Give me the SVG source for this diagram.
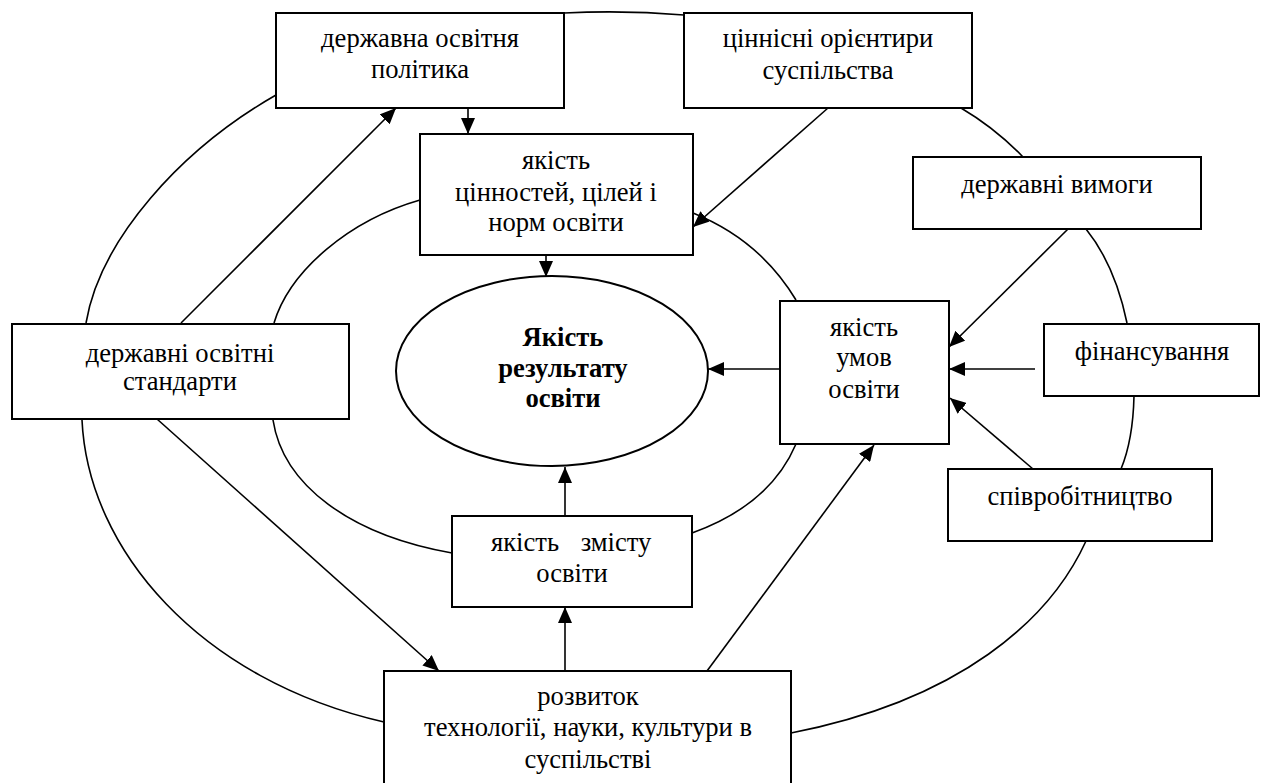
<svg xmlns="http://www.w3.org/2000/svg" width="1262" height="783" viewBox="0 0 1262 783">
<style>
.box{fill:#fff;stroke:#000;stroke-width:2}
text{font-family:'Liberation Serif','Times New Roman','DejaVu Serif',serif;font-size:26.6px;fill:#000;text-anchor:middle}
.b{font-weight:bold}
.c{fill:none;stroke:#000;stroke-width:1.6}
.a{fill:none;stroke:#000;stroke-width:1.6;marker-end:url(#ah)}
</style>
<defs>
<marker id="ah" markerUnits="userSpaceOnUse" markerWidth="16" markerHeight="14" viewBox="0 0 16 14" refX="16" refY="7" orient="auto">
<path d="M0,0 L16,7 L0,14 Z" fill="#000"/>
</marker>
</defs>
<rect width="1262" height="783" fill="#fff"/>
<g id="connectors">
<path class="c" d="M276,95 C180,150 100,240 86,323"/>
<path class="c" d="M82,420 C88,550 200,680 384,722"/>
<path class="c" d="M564,13 Q625,10 684,15"/>
<path class="c" d="M961,108 Q995,128 1023,157"/>
<path class="c" d="M1086,229 Q1115,265 1127,323"/>
<path class="c" d="M1134,396 Q1133,440 1121,469"/>
<path class="c" d="M1086,541 C1050,620 960,700 791,733"/>
<path class="c" d="M420,200 C350,220 290,270 274,323"/>
<path class="c" d="M273,420 C283,485 350,535 452,553"/>
<path class="c" d="M692,533 Q770,505 796,444"/>
<path class="c" d="M796,300 Q760,240 693,213"/>
<path class="a" d="M468,107 L468,134"/>
<path class="a" d="M546,255 L546,277"/>
<path class="a" d="M828,108 L693,227"/>
<path class="a" d="M1068,229 L949,347"/>
<path class="a" d="M1035,369 L949,369"/>
<path class="a" d="M1033,469 L950,398"/>
<path class="a" d="M780,369 L708,369"/>
<path class="a" d="M181,323 L396,108"/>
<path class="a" d="M157,419 L439,671"/>
<path class="a" d="M565,671 L565,607"/>
<path class="a" d="M565,516 L565,467"/>
<path class="a" d="M707,671 L874,445"/>
</g>
<g id="n1"><rect class="box" x="276" y="13" width="288" height="95"/><text x="420" y="47">державна освітня</text><text x="420" y="78">політика</text></g>
<g id="n2"><rect class="box" x="684" y="13" width="288" height="95"/><text x="828" y="47">ціннісні орієнтири</text><text x="828" y="79">суспільства</text></g>
<g id="n3"><rect class="box" x="420" y="134" width="273" height="121"/><text x="556" y="169">якість</text><text x="556" y="201">цінностей, цілей і</text><text x="556" y="231">норм освіти</text></g>
<g id="n4"><rect class="box" x="913" y="157" width="288" height="72"/><text x="1057" y="193">державні вимоги</text></g>
<g id="n5"><rect class="box" x="12" y="324" width="337" height="95"/><text x="180" y="362">державні освітні</text><text x="180" y="390">стандарти</text></g>
<g id="n6"><ellipse class="box" cx="552" cy="371" rx="156" ry="95"/><text class="b" x="563" y="346">Якість</text><text class="b" x="563" y="377">результату</text><text class="b" x="563" y="407">освіти</text></g>
<g id="n7"><rect class="box" x="780" y="301" width="169" height="143"/><text x="864" y="336">якість</text><text x="864" y="366">умов</text><text x="864" y="398">освіти</text></g>
<g id="n8"><rect class="box" x="1044" y="324" width="215" height="72"/><text x="1152" y="360">фінансування</text></g>
<g id="n9"><rect class="box" x="948" y="469" width="264" height="72"/><text x="1080" y="505">співробітництво</text></g>
<g id="n10"><rect class="box" x="452" y="516" width="240" height="91"/><text x="525" y="551">якість</text><text x="616" y="551">змісту</text><text x="572" y="582">освіти</text></g>
<g id="n11"><rect class="box" x="384" y="671" width="407" height="140"/><text x="588" y="705">розвиток</text><text x="588" y="736">технології, науки, культури в</text><text x="588" y="768">суспільстві</text></g>
</svg>
